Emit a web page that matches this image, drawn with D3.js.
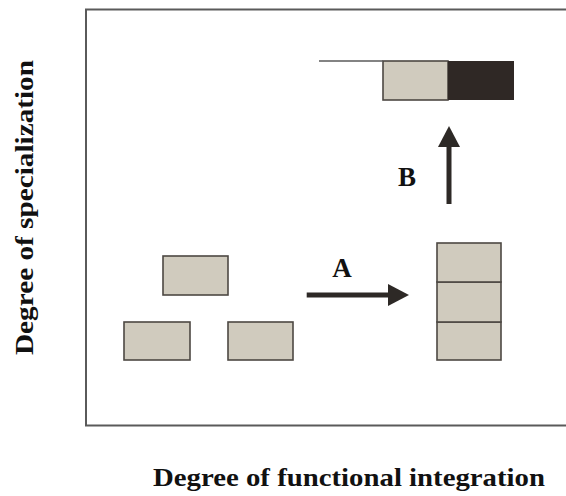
<!DOCTYPE html>
<html>
<head>
<meta charset="utf-8">
<script src="https://cdn.jsdelivr.net/npm/d3@7"></script>
<style>
  html, body { margin: 0; padding: 0; background: #fff; }
  svg { display: block; }
</style>
</head>
<body>
<svg id="chart" width="566" height="496"></svg>
<script>
// ---- data (diagram units: x from frame's left edge, y up from frame's bottom) ----
const lightBoxes = [
  { id: "separate-top",    x0: 77,  x1: 142, y0: 130.5, y1: 169.5 },
  { id: "separate-left",   x0: 38,  x1: 104, y0: 65.5,  y1: 103.5 },
  { id: "separate-right",  x0: 142, x1: 207, y0: 65.5,  y1: 103.5 },
  { id: "stack-1",         x0: 351, x1: 415, y0: 65.5,  y1: 103.5 },
  { id: "stack-2",         x0: 351, x1: 415, y0: 103.5, y1: 143.5 },
  { id: "stack-3",         x0: 351, x1: 415, y0: 143.5, y1: 182.5 },
  { id: "special-light",   x0: 297, x1: 362, y0: 325.5, y1: 364.5 }
];
const darkBoxes = [
  { id: "special-dark", x0: 362, x1: 428, y0: 325.5, y1: 364.5 }
];
const guideLines = [
  { x0: 233, x1: 297, y0: 364.5, y1: 364.5 }
];
const arrows = [
  { label: "A", x0: 220.7, y0: 130.5, x1: 323,  y1: 130.5, lx: 256, ly: 148.5 },
  { label: "B", x0: 363,   y0: 221.5, x1: 363,  y1: 299.5, lx: 321, ly: 239.5 }
];
const xAxisTitle = "Degree of functional integration";
const yAxisTitle = "Degree of specialization";
const xDomain = [0, 480];
const yDomain = [0, 416];

// ---- layout ----
const svg = d3.select("#chart");
const x = d3.scaleLinear().domain(xDomain).range([86, 566]);
const y = d3.scaleLinear().domain(yDomain).range([425.5, 9.5]);

const LIGHT = "#d0cbbe", DARK = "#2f2825", EDGE = "#4d4843", INK = "#2d2926";
const SERIF = "'Liberation Serif'";

// frame: left, top, bottom
const frame = d3.path();
frame.moveTo(x(xDomain[1]), y(yDomain[1]));
frame.lineTo(x(0), y(yDomain[1]));
frame.lineTo(x(0), y(0));
frame.lineTo(x(xDomain[1]), y(0));
svg.append("path").attr("d", frame.toString())
  .attr("fill", "none").attr("stroke", "#5a5a5a").attr("stroke-width", 2);

// boxes
svg.selectAll("rect.light").data(lightBoxes).join("rect")
  .attr("class", "light")
  .attr("x", d => x(d.x0)).attr("y", d => y(d.y1))
  .attr("width", d => x(d.x1) - x(d.x0)).attr("height", d => y(d.y0) - y(d.y1))
  .attr("fill", LIGHT).attr("stroke", EDGE).attr("stroke-width", 1.6);

svg.selectAll("rect.dark").data(darkBoxes).join("rect")
  .attr("class", "dark")
  .attr("x", d => x(d.x0)).attr("y", d => y(d.y1))
  .attr("width", d => x(d.x1) - x(d.x0)).attr("height", d => y(d.y0) - y(d.y1))
  .attr("fill", DARK);

svg.selectAll("line.guide").data(guideLines).join("line")
  .attr("class", "guide")
  .attr("x1", d => x(d.x0)).attr("x2", d => x(d.x1))
  .attr("y1", d => y(d.y0)).attr("y2", d => y(d.y1))
  .attr("stroke", "#5a5a5a").attr("stroke-width", 1.6);

// arrows
const headLen = 21, headHalf = 11;
arrows.forEach(a => {
  const sx = x(a.x0), sy = y(a.y0), ex = x(a.x1), ey = y(a.y1);
  const dx = ex - sx, dy = ey - sy, len = Math.hypot(dx, dy);
  const ux = dx / len, uy = dy / len, px = -uy, py = ux;
  const bx = ex - ux * headLen, by = ey - uy * headLen;
  svg.append("line")
    .attr("x1", sx).attr("y1", sy).attr("x2", bx + ux * 2).attr("y2", by + uy * 2)
    .attr("stroke", INK).attr("stroke-width", 5);
  svg.append("path")
    .attr("d", `M${ex},${ey}L${bx + px * headHalf},${by + py * headHalf}L${bx - px * headHalf},${by - py * headHalf}Z`)
    .attr("fill", INK);
  svg.append("text")
    .attr("x", x(a.lx)).attr("y", y(a.ly))
    .attr("text-anchor", "middle")
    .attr("font-family", SERIF)
    .attr("font-weight", "bold").attr("font-size", 27)
    .attr("fill", "#111")
    .text(a.label);
});

// axis titles
svg.append("text")
  .attr("x", 153).attr("y", 486)
  .attr("font-family", SERIF)
  .attr("font-weight", "bold").attr("font-size", 25)
  .attr("textLength", 392).attr("lengthAdjust", "spacingAndGlyphs")
  .attr("fill", "#111")
  .text(xAxisTitle);

svg.append("text")
  .attr("transform", "translate(33,355) rotate(-90)")
  .attr("x", 0).attr("y", 0)
  .attr("font-family", SERIF)
  .attr("font-weight", "bold").attr("font-size", 25)
  .attr("textLength", 295).attr("lengthAdjust", "spacingAndGlyphs")
  .attr("fill", "#111")
  .text(yAxisTitle);
</script>
</body>
</html>
